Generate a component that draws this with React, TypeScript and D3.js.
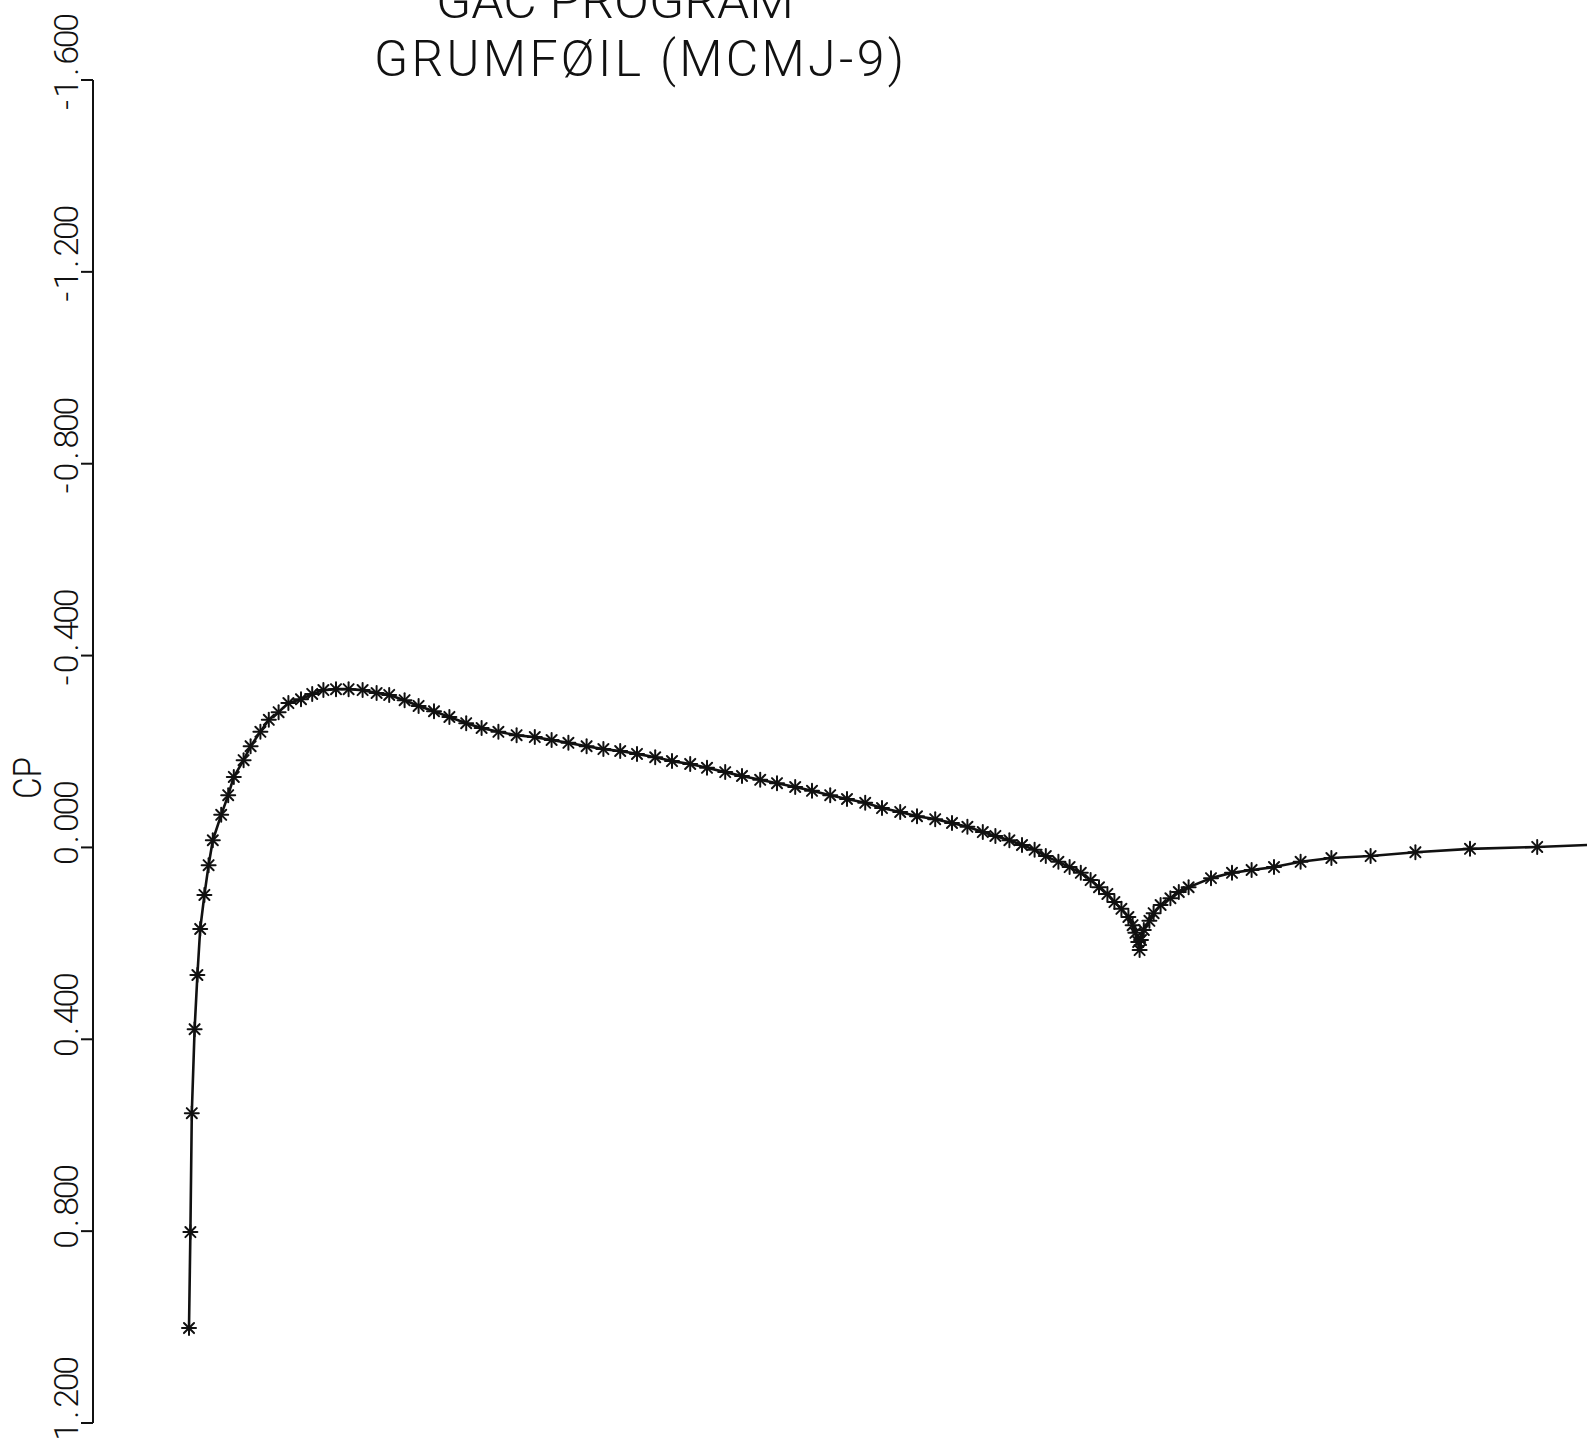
import React from 'react';
import * as d3 from 'd3';

const titleLines = ['GAC PROGRAM', 'GRUMFØIL (MCMJ-9)'];
const yLabel = 'CP';
const yTicks = [-1.6, -1.2, -0.8, -0.4, 0.0, 0.4, 0.8, 1.2];
const yTickLabels = ['-1.600', '-1.200', '-0.800', '-0.400', '0.000', '0.400', '0.800', '1.200'];

const xOverC = [
  0.000, 0.001, 0.002, 0.004, 0.006, 0.008, 0.011, 0.014, 0.017, 0.023, 0.028, 0.032, 0.039, 0.044,
  0.051, 0.057, 0.064, 0.071, 0.080, 0.088, 0.096, 0.105, 0.114, 0.124, 0.134, 0.143, 0.154, 0.164,
  0.175, 0.186, 0.198, 0.209, 0.221, 0.234, 0.247, 0.259, 0.271, 0.284, 0.296, 0.308,
  0.320, 0.333, 0.345, 0.358, 0.370, 0.383, 0.395, 0.408, 0.420, 0.433, 0.445, 0.458, 0.470, 0.483,
  0.495, 0.508, 0.520, 0.533, 0.545,
  0.556, 0.567, 0.576, 0.586, 0.595, 0.604, 0.612, 0.621, 0.629, 0.637, 0.644, 0.650, 0.656, 0.661,
  0.666, 0.671, 0.674, 0.676, 0.678, 0.679,
  0.680, 0.682, 0.686, 0.689, 0.694, 0.701, 0.707, 0.714, 0.730, 0.745, 0.759, 0.775, 0.794, 0.816,
  0.844, 0.876, 0.915, 0.963, 1.015,
];

const cpValues = [
  1.002, 0.802, 0.554, 0.379, 0.266, 0.170, 0.099, 0.037, -0.015, -0.068, -0.109, -0.147, -0.182, -0.211,
  -0.241, -0.266, -0.282, -0.301, -0.309, -0.320, -0.328, -0.330, -0.330, -0.328, -0.322, -0.318, -0.307, -0.295,
  -0.284, -0.272, -0.259, -0.249, -0.241, -0.234, -0.230, -0.224, -0.218, -0.211, -0.205, -0.201,
  -0.195, -0.188, -0.180, -0.174, -0.166, -0.157, -0.149, -0.141, -0.134, -0.126, -0.118, -0.109, -0.101, -0.093,
  -0.082, -0.074, -0.065, -0.059, -0.051,
  -0.043, -0.032, -0.024, -0.015, -0.005, 0.005, 0.018, 0.030, 0.041, 0.053, 0.068, 0.083, 0.097, 0.114,
  0.128, 0.145, 0.162, 0.178, 0.197, 0.214,
  0.193, 0.172, 0.153, 0.137, 0.120, 0.106, 0.093, 0.083, 0.064, 0.053, 0.047, 0.041, 0.030, 0.022,
  0.018, 0.010, 0.003, -0.001, -0.007,
];

const W = 1587;
const H = 1449;
const FONT = 'Roboto, "DejaVu Sans", sans-serif';
const WEIGHT = 300;

export default function App() {
  const x = d3.scaleLinear().domain([0, 1]).range([189, 1589]);
  const y = d3.scaleLinear().domain([-1.6, 1.2]).range([80, 1423]);
  const axisX = 93;
  const tickLen = 12;

  const pts = xOverC.map((v, i) => [v, cpValues[i]] as [number, number]);
  const line = d3
    .line<[number, number]>()
    .x((d) => x(d[0]))
    .y((d) => y(d[1]));

  const r = 7;
  const rd = r * 0.72;

  return (
    <div style={{ position: 'absolute', left: 0, top: 0, width: W, height: H, overflow: 'hidden', background: '#fff' }}>
      <svg width={W} height={H} viewBox={`0 0 ${W} ${H}`} style={{ display: 'block' }}>
        <rect x={0} y={0} width={W} height={H} fill="#fff" />
        {/* Title (first line is cut by the top edge, as in the original plot) */}
        <text x={436} y={18} fontFamily={FONT} fontWeight={WEIGHT} fontSize={50} textLength={358} lengthAdjust="spacingAndGlyphs" fill="#111">
          {titleLines[0]}
        </text>
        <text x={374} y={76} fontFamily={FONT} fontWeight={WEIGHT} fontSize={50} textLength={530} lengthAdjust="spacing" fill="#111">
          {titleLines[1]}
        </text>

        {/* Y axis */}
        <line x1={axisX} x2={axisX} y1={y(-1.6)} y2={y(1.2)} stroke="#111" strokeWidth={2} />
        {yTicks.map((t, i) => {
          const ty = y(t);
          const lab = yTickLabels[i];
          const dot = lab.indexOf('.');
          const adv = 16.5;
          return (
            <g key={i}>
              <line x1={axisX - tickLen} x2={axisX} y1={ty} y2={ty} stroke="#111" strokeWidth={2} />
              <g transform={`translate(78, ${ty}) rotate(-90)`}>
                <text y={0} fontFamily={FONT} fontWeight={WEIGHT} fontSize={34} fill="#111" textAnchor="middle">
                  {lab.split('').map((ch, k) => (
                    <tspan key={k} x={(k - dot + 0.5) * adv} y={0}>
                      {ch}
                    </tspan>
                  ))}
                </text>
              </g>
            </g>
          );
        })}
        <g transform={`translate(41, 778) rotate(-90)`}>
          <text x={0} y={0} textAnchor="middle" fontFamily={FONT} fontWeight={WEIGHT} fontSize={38} textLength={42} lengthAdjust="spacingAndGlyphs" fill="#111">
            {yLabel}
          </text>
        </g>

        {/* Cp curve */}
        <path d={line(pts) || ''} fill="none" stroke="#111" strokeWidth={2.6} strokeLinejoin="round" />
        {pts.map((d, i) => {
          const cx = x(d[0]);
          const cy = y(d[1]);
          return (
            <g key={i} stroke="#111" strokeWidth={2} strokeLinecap="round">
              <line x1={cx - r} x2={cx + r} y1={cy} y2={cy} />
              <line x1={cx} x2={cx} y1={cy - r} y2={cy + r} />
              <line x1={cx - rd} x2={cx + rd} y1={cy - rd} y2={cy + rd} />
              <line x1={cx - rd} x2={cx + rd} y1={cy + rd} y2={cy - rd} />
            </g>
          );
        })}
      </svg>
    </div>
  );
}
